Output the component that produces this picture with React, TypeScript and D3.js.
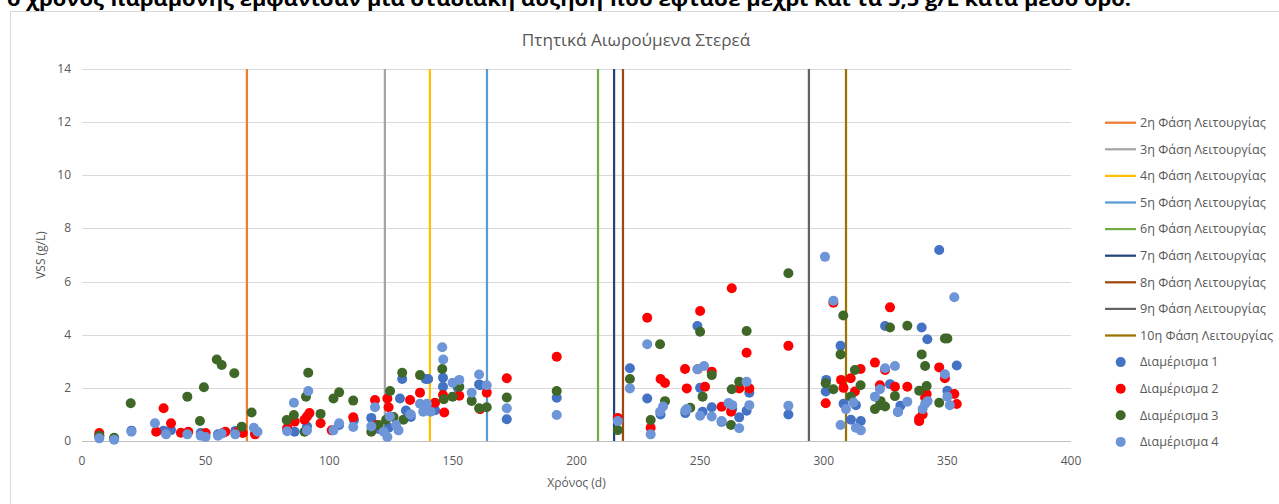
import React from "react";
import * as d3 from "d3";

const W = 1279;
const H = 504;

const yTicks = [0, 2, 4, 6, 8, 10, 12, 14];
const xTicks = [0, 50, 100, 150, 200, 250, 300, 350, 400];

const phaseNames = [
  "2η Φάση Λειτουργίας",
  "3η Φάση Λειτουργίας",
  "4η Φάση Λειτουργίας",
  "5η Φάση Λειτουργίας",
  "6η Φάση Λειτουργίας",
  "7η Φάση Λειτουργίας",
  "8η Φάση Λειτουργίας",
  "9η Φάση Λειτουργίας",
  "10η Φάση Λειτουργίας",
];
const phaseDays = [66.7, 122.5, 140.7, 163.8, 208.7, 215.2, 218.8, 294, 309];
const phaseColors = ["#ED7D31", "#A5A5A5", "#FFC000", "#5B9BD5", "#70AD47", "#264478", "#9E480E", "#636363", "#997300"];

const seriesNames = ["Διαμέρισμα 1", "Διαμέρισμα 2", "Διαμέρισμα 3", "Διαμέρισμα 4"];
const seriesColors = ["#4472C4", "#FF0000", "#3F6828", "#6D95D8"];

const s1: [number, number][] = [
  [7, 0.2], [13, 0.08], [20, 0.39], [33, 0.39], [36, 0.41], [48, 0.3], [55, 0.25], [62, 0.38], [70, 0.3],
  [83, 0.45], [86, 0.35], [91, 0.55], [104, 0.6], [110, 0.79], [117, 0.87], [120, 0.45], [124, 0.5],
  [128.6, 1.6], [129.5, 2.33], [131, 1.15], [133, 0.9], [139, 2.33], [140, 2.33], [142.8, 1.16], [146, 2.38], [146, 2.04],
  [152, 2.0], [160.6, 2.13], [161, 2.1], [171.8, 0.82], [192, 1.63], [216.7, 0.8], [221.6, 2.74], [228.6, 1.6],
  [234, 1.0], [244, 1.05], [248.9, 4.33], [250, 2.0], [251, 1.1], [254.7, 1.27], [258.7, 0.72], [263, 1.2],
  [265.8, 0.89], [269.9, 1.82], [268.8, 1.14], [285.7, 1.0], [300.8, 1.86], [301, 2.3], [306.8, 3.58], [308, 1.4],
  [311, 0.8], [313, 1.35], [315, 0.75], [324.8, 4.33], [326.8, 2.14], [331, 1.33], [339.6, 4.27], [341.9, 3.83],
  [346.7, 7.19], [350, 1.89], [353.8, 2.84], [338.6, 0.75], [330, 1.09],
];

const s2: [number, number][] = [
  [7, 0.3], [33, 1.23], [30, 0.35], [36, 0.67], [40, 0.31], [43, 0.35], [50, 0.3], [57, 0.3], [58, 0.35], [63, 0.35],
  [65, 0.3], [70, 0.25], [83, 0.49], [86, 0.73], [90, 0.8], [91, 0.92], [92, 1.05], [96.5, 0.67], [101, 0.4],
  [109.7, 0.89], [118.5, 1.54], [119, 0.6], [123.5, 1.6], [124, 1.27], [132.7, 1.54], [136.7, 1.82], [140, 1.19],
  [142.8, 1.44], [146, 1.73], [146.5, 1.07], [152.6, 1.7], [161, 1.2], [163.7, 1.82], [171.8, 2.36], [192, 3.17],
  [216.7, 0.87], [228.6, 4.64], [230, 0.5], [234, 2.33], [235.8, 2.18], [243.9, 2.71], [244.6, 1.98], [250, 4.89],
  [249, 2.7], [252, 2.04], [254.7, 2.61], [258.7, 1.29], [262.8, 5.75], [262.5, 1.1], [265.8, 1.98], [268.8, 3.32],
  [269.9, 1.98], [285.7, 3.58], [300.8, 1.42], [303.9, 5.2], [307, 2.3], [308, 2.0], [310.9, 2.36], [312.6, 1.86],
  [314.9, 2.71], [320.7, 2.95], [322.7, 2.1], [324.8, 2.67], [326.8, 5.03], [328.8, 2.04], [333.8, 2.04],
  [338.6, 0.85], [338.6, 0.75], [340, 1.0], [341.6, 1.77], [341, 1.64], [346.7, 2.77], [349, 2.36], [352.8, 1.77],
  [353.8, 1.39],
];

const s3: [number, number][] = [
  [7, 0.2], [13, 0.12], [19.7, 1.42], [42.6, 1.67], [47.7, 0.75], [49.3, 2.02], [54.5, 3.07], [56.5, 2.86],
  [61.6, 2.55], [64.6, 0.54], [68.6, 1.07], [82.8, 0.79], [85.7, 0.98], [90.6, 1.67], [91.5, 2.57], [90, 0.35],
  [96.5, 1.02], [101.7, 1.6], [104, 1.83], [109.7, 1.52], [117, 0.35], [120, 0.6], [123, 0.8], [124.6, 1.88],
  [126, 0.9], [129.5, 2.57], [130, 0.8], [136.7, 2.48], [145.7, 2.71], [146.3, 1.57], [149.9, 1.67], [152.6, 2.04],
  [157.6, 1.51], [160.6, 1.23], [163.7, 1.27], [171.8, 1.64], [192, 1.88], [216.7, 0.41], [221.6, 2.33], [230, 0.79],
  [233.8, 3.64], [235.8, 1.5], [246, 1.25], [250, 4.11], [251, 1.67], [254.7, 2.48], [262.8, 1.95], [262.5, 0.6],
  [265.8, 2.23], [268.8, 4.14], [285.7, 6.31], [300.8, 2.17], [303.9, 1.95], [306.8, 3.26], [307.9, 4.72],
  [310.9, 1.67], [312.6, 2.67], [314.9, 2.1], [320.7, 1.2], [322.7, 1.35], [324.8, 1.3], [326.8, 4.27], [328.8, 1.69],
  [333.8, 4.34], [338.6, 1.89], [339.6, 3.26], [341, 2.82], [341.6, 2.07], [346.7, 1.44], [349, 3.86], [350, 3.86],
  [323, 1.5],
];

const s4: [number, number][] = [
  [7, 0.1], [13, 0.05], [20, 0.35], [29.5, 0.67], [34, 0.25], [42.6, 0.25], [48, 0.2], [50, 0.15], [55, 0.2],
  [56.5, 0.28], [62, 0.25], [69.5, 0.5], [71, 0.35], [83, 0.37], [85.7, 1.44], [91, 0.4], [91.5, 1.88], [101.7, 0.4],
  [104, 0.67], [109.7, 0.53], [117, 0.55], [118.5, 1.27], [122, 0.35], [123.5, 0.15], [124.5, 0.92], [127, 0.6],
  [128, 0.4], [132.7, 1.0], [133, 1.0], [136.7, 1.4], [138, 1.1], [139.5, 1.4], [141, 1.1], [145.7, 3.53],
  [146.1, 3.07], [149.9, 2.19], [152.6, 2.3], [157.6, 1.82], [160.6, 2.5], [163.7, 2.1], [171.8, 1.23], [192, 0.98],
  [216.7, 0.75], [221.6, 1.98], [228.6, 3.64], [230, 0.25], [233.8, 1.1], [235, 1.3], [244, 1.15], [244.6, 1.2],
  [248.9, 2.7], [251.6, 2.82], [250, 0.95], [254.7, 0.92], [258.7, 0.75], [261.5, 1.43], [263, 1.35], [268.8, 2.23],
  [269.9, 1.35], [265.8, 0.48], [285.7, 1.33], [300.5, 6.93], [303.9, 5.28], [306.8, 0.6], [309, 1.2], [312, 1.45],
  [313, 0.5], [315, 0.4], [320.7, 1.67], [322.7, 1.95], [324.8, 2.74], [328.8, 2.82], [330, 1.1], [333.8, 1.48],
  [340, 1.2], [341, 1.4], [342, 1.5], [349, 2.51], [350, 1.67], [352.8, 5.41], [351, 1.35],
];

const allSeries = [s1, s2, s3, s4];

const FONT = "'Open Sans', 'Noto Sans', sans-serif";
const GRAY = "#595959";

export default function App() {
  const x = d3.scaleLinear().domain([0, 400]).range([82, 1071]);
  const y = d3.scaleLinear().domain([0, 14]).range([441, 69]);

  const legendX = 1105;
  const legendY0 = 122.7;
  const legendStep = 26.6;

  return (
    <svg
      width={W}
      height={H}
      style={{ position: "absolute", left: 0, top: 0, background: "#fff" }}
      fontFamily={FONT}
    >
      <rect x={0} y={0} width={W} height={H} fill="#fff" />
      {/* cut-off paragraph text at top */}
      <text
        x={7}
        y={6}
        fontSize={19}
        fontWeight="bold"
        fill="#000"
        textLength={1124}
        lengthAdjust="spacingAndGlyphs"
      >
        ο χρόνος παραμονής εμφάνισαν μια σταδιακή αύξηση που έφτασε μέχρι και τα 5,5 g/L κατά μέσο όρο.
      </text>
      {/* chart frame */}
      <rect x={10.5} y={11.5} width={W} height={H} fill="#fff" stroke="#D9D9D9" strokeWidth={1} />

      {/* title */}
      <text x={636} y={46} textAnchor="middle" fontSize={17.2} fill={GRAY}>
        Πτητικά Αιωρούμενα Στερεά
      </text>

      {/* gridlines */}
      {yTicks.map((t) => (
        <line
          key={"g" + t}
          x1={x(0)}
          x2={x(400)}
          y1={Math.round(y(t)) + 0.5}
          y2={Math.round(y(t)) + 0.5}
          stroke={t === 0 ? "#BFBFBF" : "#D9D9D9"}
          strokeWidth={1}
        />
      ))}

      {/* y tick labels */}
      {yTicks.map((t) => (
        <text key={"yl" + t} x={71} y={y(t) + 4} textAnchor="end" fontSize={12} fill={GRAY}>
          {t}
        </text>
      ))}
      {/* x tick labels */}
      {xTicks.map((t) => (
        <text key={"xl" + t} x={x(t)} y={465} textAnchor="middle" fontSize={12} fill={GRAY}>
          {t}
        </text>
      ))}

      {/* axis titles */}
      <text
        x={0}
        y={0}
        transform={`translate(45, ${(y(0) + y(14)) / 2}) rotate(-90)`}
        textAnchor="middle"
        fontSize={12}
        fill={GRAY}
      >
        VSS (g/L)
      </text>
      <text x={(x(0) + x(400)) / 2} y={487} textAnchor="middle" fontSize={12} fill={GRAY}>
        Χρόνος (d)
      </text>

      {/* phase lines */}
      {phaseDays.map((d, i) => (
        <line
          key={"p" + i}
          x1={x(d)}
          x2={x(d)}
          y1={y(0)}
          y2={y(14)}
          stroke={phaseColors[i]}
          strokeWidth={2.25}
        />
      ))}

      {/* scatter points */}
      {allSeries.map((s, si) => (
        <g key={"s" + si}>
          {s.map(([dx, v], i) => (
            <circle key={i} cx={x(dx)} cy={y(v)} r={5} fill={seriesColors[si]} />
          ))}
        </g>
      ))}

      {/* legend */}
      {phaseNames.map((n, i) => (
        <g key={"lp" + i}>
          <line
            x1={legendX}
            x2={legendX + 31}
            y1={legendY0 + i * legendStep}
            y2={legendY0 + i * legendStep}
            stroke={phaseColors[i]}
            strokeWidth={2.25}
          />
          <text x={1140} y={legendY0 + i * legendStep + 4.3} fontSize={12.6} fill={GRAY}>
            {n}
          </text>
        </g>
      ))}
      {seriesNames.map((n, i) => {
        const yy = legendY0 + (i + 9) * legendStep;
        return (
          <g key={"ls" + i}>
            <circle cx={1120.7} cy={yy} r={5} fill={seriesColors[i]} />
            <text x={1140} y={yy + 4.3} fontSize={12.6} fill={GRAY}>
              {n}
            </text>
          </g>
        );
      })}
    </svg>
  );
}
